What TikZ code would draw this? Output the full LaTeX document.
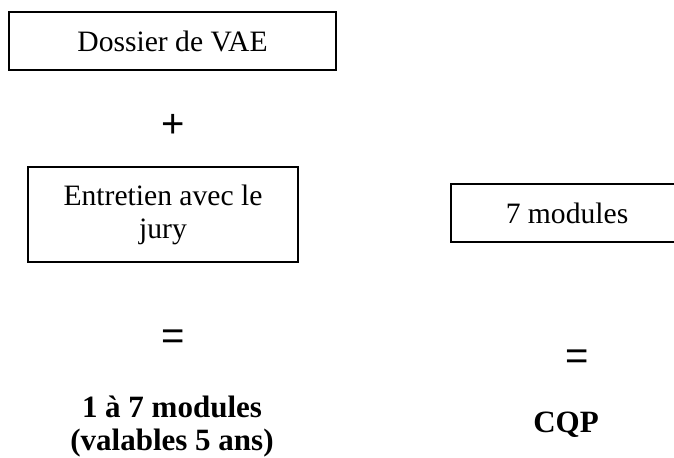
\documentclass[tikz,border=0pt]{standalone}
\usepackage{fontspec}
\setmainfont{Liberation Serif}
\newfontfamily\opfont{Liberation Sans}
\usetikzlibrary{positioning}

\tikzset{
    cadre/.style={draw, rectangle, line width=1pt, align=center, inner sep=0pt,
        font=\fontsize{14.8}{16.5}\selectfont},
    oper/.style={font=\opfont\fontsize{20}{22}\selectfont, inner sep=0pt},
    resultat/.style={align=center, font=\bfseries\fontsize{15.5}{16.5}\selectfont}
}

\begin{document}
\begin{tikzpicture}[x=0.5pt, y=-0.5pt]
    \clip (0,0) rectangle (674,457);
    % colonne VAE
    \node[cadre, minimum width=163.5pt, minimum height=29pt] (dossier) at (172.5,41) {Dossier de VAE};
    \node[oper] (plus) at (173,126) {+};
    \node[cadre, minimum width=135pt, minimum height=47.5pt] (entretien) at (163,214.5) {Entretien avec le\\jury};
    \node[oper] (egal1) at (173,340) {=};
    \node[resultat] (modules) at (172,427) {1 à 7 modules\\(valables 5 ans)};

    % colonne formation
    \node[cadre, minimum width=116pt, minimum height=29pt] (sept) at (567,213) {7 modules};
    \node[oper] (egal2) at (577,360) {=};
    \node[resultat] (cqp) at (566,425) {CQP};
\end{tikzpicture}
\end{document}
